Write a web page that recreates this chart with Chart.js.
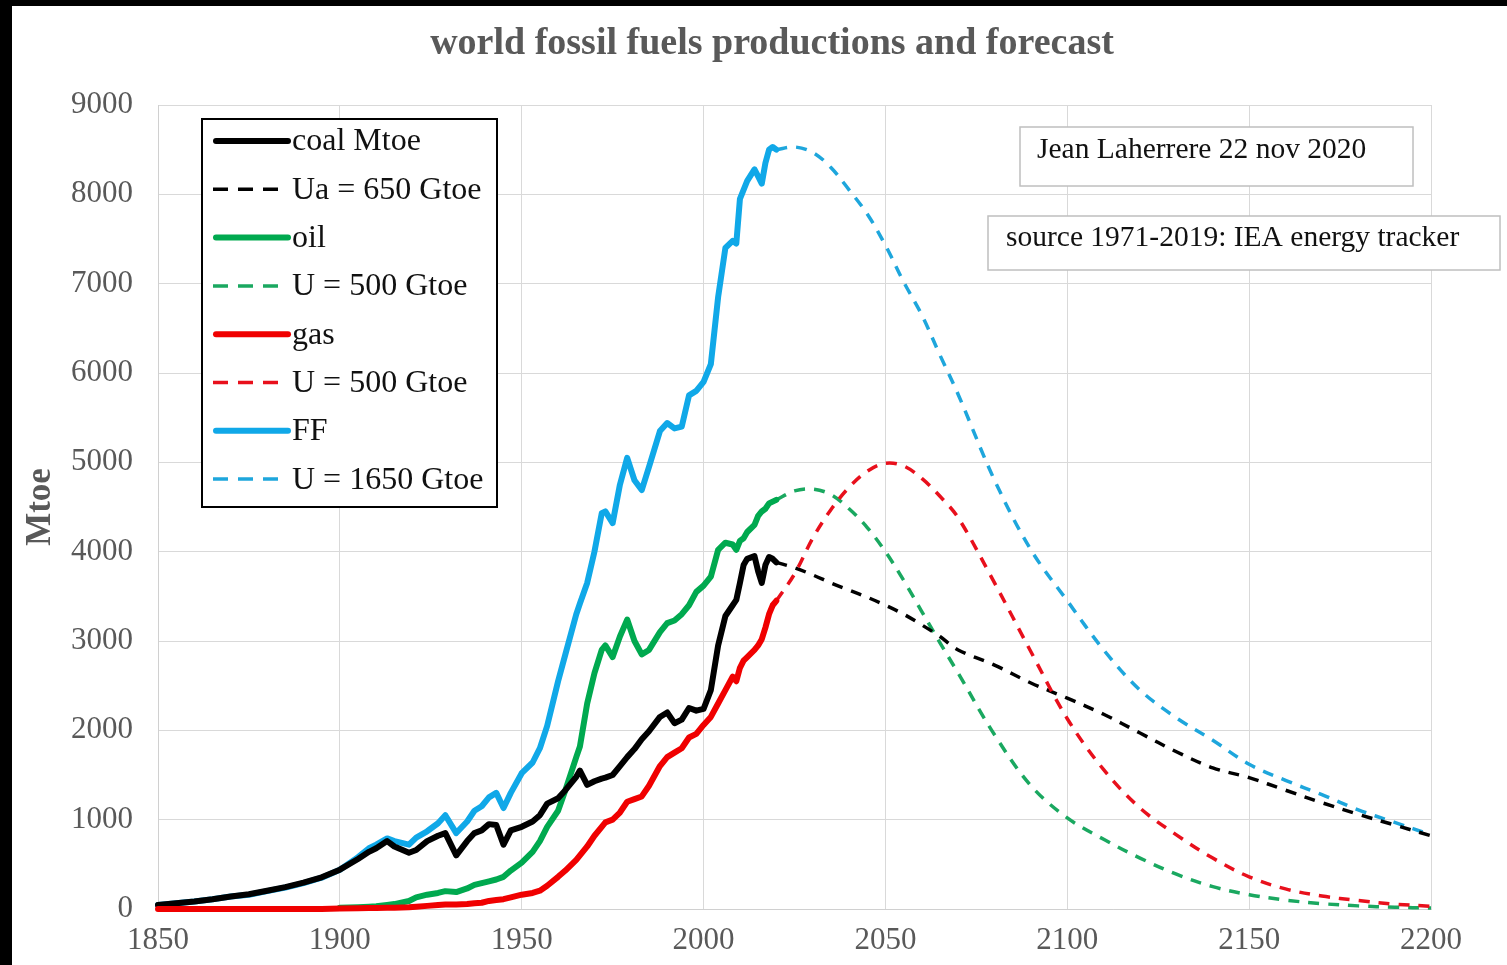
<!DOCTYPE html>
<html>
<head>
<meta charset="utf-8">
<title>world fossil fuels productions and forecast</title>
<script src="https://cdn.jsdelivr.net/npm/chart.js@4.4.1/dist/chart.umd.min.js"></script>
<style>
  html, body { margin: 0; padding: 0; background: #000; }
  #wrap { position: absolute; left: 12px; top: 6px; width: 1495px; height: 959px; background: #fff; }
</style>
</head>
<body>
<div id="wrap"><canvas id="chart"></canvas></div>
<script>
// historical years (1850-2020)
const histYears = [1850,1855,1860,1865,1870,1875,1880,1885,1890,1895,1900,
  1905,1908,1910,1913,1915,1919,1921,1924,1927,1929,
  1932,1935,1937,1939,1941,1943,1945,1947,1950,
  1953,1955,1957,1960,1962,1965,1966,1968,1970,
  1972,1973,1975,1977,1979,1981,1983,1985,1988,1990,
  1992,1994,1996,1998,2000,2002,2004,2006,2008,2009,
  2010,2011,2012,2014,2015,2016,2017,2018,2019,2020];

const coal = [45,65,85,110,140,165,205,245,295,355,440,
  560,640,680,760,700,630,660,760,820,850,
  600,760,850,880,950,940,720,880,920,
  980,1050,1180,1240,1330,1480,1550,1390,1430,
  1460,1470,1500,1600,1700,1790,1900,1990,2150,2200,
  2080,2120,2250,2220,2240,2450,2950,3280,3400,3460,
  3650,3850,3920,3950,3780,3650,3850,3940,3920,3880];

const oil = [null,null,null,null,null,null,null,null,null,null,15,
  20,25,30,45,55,90,130,160,180,200,
  190,230,270,290,310,330,360,430,520,
  640,760,920,1100,1330,1700,1820,2300,2640,
  2900,2950,2820,3050,3240,3000,2850,2900,3100,3200,
  3230,3300,3400,3550,3620,3720,4020,4100,4080,4020,
  4120,4150,4220,4300,4400,4450,4480,4540,4560,4580];

const gas = [0,0,0,0,0,0,0,0,0,0,5,
  8,10,12,15,15,20,25,35,45,50,
  50,55,65,70,90,100,110,130,160,
  180,205,260,360,430,550,600,700,820,
  920,970,1000,1080,1200,1230,1260,1380,1600,1700,
  1750,1800,1920,1960,2060,2150,2300,2450,2600,2550,
  2700,2780,2820,2900,2950,3020,3150,3300,3400,3450];

const ff = [45,65,85,110,140,160,200,240,290,350,440,
  580,680,720,790,760,720,800,870,960,1050,
  850,980,1100,1150,1250,1300,1130,1300,1520,
  1640,1800,2050,2550,2850,3300,3420,3650,4000,
  4430,4450,4320,4750,5050,4800,4690,4950,5350,5440,
  5380,5400,5750,5800,5900,6100,6850,7400,7480,7450,
  7950,8050,8150,8280,8200,8120,8350,8500,8530,8500];

// forecast years (2020-2200)
const fcYears = [2020,2025,2030,2035,2040,2045,2050,2055,2060,2065,2070,
  2080,2090,2100,2110,2120,2130,2140,2150,2160,2170,2180,2190,2200];

const coalFc = [3880,3820,3740,3650,3570,3490,3400,3300,3180,3050,2900,
  2730,2530,2360,2180,1970,1760,1580,1470,1330,1190,1060,940,820];
const oilFc = [4580,4680,4700,4640,4480,4270,4000,3680,3330,2980,2640,
  1950,1380,1020,780,570,390,250,160,100,60,35,20,10];
const gasFc = [3450,3750,4150,4470,4720,4900,4990,4960,4820,4620,4380,
  3650,2880,2130,1560,1130,830,570,360,225,145,95,55,30];
const ffFc = [8500,8530,8470,8300,8050,7780,7430,7020,6650,6200,5760,
  4800,4020,3450,2900,2450,2140,1890,1620,1440,1280,1110,970,830];

const xTicks = [1850,1900,1950,2000,2050,2100,2150,2200];
const yTicks = [0,1000,2000,3000,4000,5000,6000,7000,8000,9000];

const titleText = 'world fossil fuels productions and forecast';
const notes = ['Jean Laherrere 22 nov 2020', 'source 1971-2019: IEA energy tracker'];

const serif = '"Liberation Serif", "Times New Roman", serif';

function pts(xs, ys) {
  return xs.map((x, i) => ({ x: x, y: ys[i] }));
}

function solid(label, xs, ys, color, order) {
  return { label: label, data: pts(xs, ys), borderColor: color, borderWidth: 6,
    borderDash: [], tension: 0, order: order, borderCapStyle: 'round', borderJoinStyle: 'round' };
}
function dashed(label, xs, ys, color, order) {
  return { label: label, data: pts(xs, ys), borderColor: color, borderWidth: 3.5,
    borderDash: [11, 9], tension: 0.35, order: order };
}

// title, legend box and the two note boxes
const overlay = {
  id: 'overlay',
  afterDraw(chart) {
    const ctx = chart.ctx;
    ctx.save();
    ctx.textBaseline = 'middle';

    ctx.fillStyle = '#595959';
    ctx.font = 'bold 38px ' + serif;
    ctx.textAlign = 'center';
    ctx.fillText(titleText, 760, 38);

    // legend
    ctx.fillStyle = '#fff';
    ctx.fillRect(190, 113, 295, 388);
    ctx.strokeStyle = '#000';
    ctx.lineWidth = 2;
    ctx.strokeRect(190, 113, 295, 388);
    ctx.font = '32px ' + serif;
    ctx.textAlign = 'left';
    chart.data.datasets.forEach((ds, i) => {
      const y = 134 + i * 48.3;
      const isDash = ds.borderDash.length > 0;
      ctx.beginPath();
      ctx.setLineDash(isDash ? [15, 10] : []);
      ctx.lineCap = isDash ? 'butt' : 'round';
      ctx.lineWidth = isDash ? 3.5 : 6;
      ctx.strokeStyle = ds.borderColor;
      ctx.moveTo(isDash ? 201 : 204, y + 1);
      ctx.lineTo(276, y + 1);
      ctx.stroke();
      ctx.setLineDash([]);
      ctx.fillStyle = '#111';
      ctx.fillText(ds.label, 280, y + 2);
    });

    // note boxes
    ctx.font = '29.5px ' + serif;
    ctx.strokeStyle = '#bfbfbf';
    ctx.lineWidth = 1.5;
    ctx.fillStyle = '#fff';
    ctx.fillRect(1008, 121, 393, 59);
    ctx.strokeRect(1008, 121, 393, 59);
    ctx.fillRect(976, 210, 512, 54);
    ctx.strokeRect(976, 210, 512, 54);
    ctx.fillStyle = '#111';
    ctx.fillText(notes[0], 1025, 144);
    ctx.fillText(notes[1], 994, 232);
    ctx.restore();
  }
};

new Chart(document.getElementById('chart'), {
  type: 'line',
  data: {
    datasets: [
      solid('coal Mtoe', histYears, coal, '#000000', 1),
      dashed('Ua = 650 Gtoe', fcYears, coalFc, '#000000', 1),
      solid('oil', histYears, oil, '#00a94f', 2),
      dashed('U = 500 Gtoe', fcYears, oilFc, '#1aa860', 2),
      solid('gas', histYears, gas, '#f00000', 0),
      dashed('U = 500 Gtoe', fcYears, gasFc, '#e8101c', 0),
      solid('FF', histYears, ff, '#10a8e8', 3),
      dashed('U = 1650 Gtoe', fcYears, ffFc, '#1ea6dc', 3)
    ]
  },
  options: {
    responsive: true,
    maintainAspectRatio: false,
    animation: false,
    layout: { padding: { top: 99, right: 76, bottom: 0, left: 0 } },
    elements: { point: { radius: 0 }, line: { fill: false } },
    datasets: { line: { clip: false, spanGaps: false } },
    plugins: { legend: { display: false }, title: { display: false }, tooltip: { enabled: false } },
    scales: {
      x: {
        type: 'linear',
        min: 1850, max: 2200,
        afterBuildTicks: s => { s.ticks = xTicks.map(v => ({ value: v })); },
        afterFit: s => { s.height = 56; },
        grid: { color: '#d9d9d9', lineWidth: 1, drawTicks: false },
        border: { color: '#d0d0d0' },
        ticks: { padding: 13, color: '#595959', font: { family: serif, size: 31 }, callback: v => String(v), maxRotation: 0 }
      },
      y: {
        min: 0, max: 9000,
        afterBuildTicks: s => { s.ticks = yTicks.map(v => ({ value: v })); },
        afterFit: s => { s.width = 146; },
        grid: { color: '#d9d9d9', lineWidth: 1, drawTicks: false },
        border: { color: '#d0d0d0' },
        ticks: { padding: 25, color: '#595959', font: { family: serif, size: 31 }, callback: v => String(v) },
        title: { display: true, text: 'Mtoe', color: '#595959', font: { family: serif, size: 35, weight: 'bold' }, padding: { top: 8, bottom: 0 } }
      }
    }
  },
  plugins: [overlay]
});
</script>
</body>
</html>
